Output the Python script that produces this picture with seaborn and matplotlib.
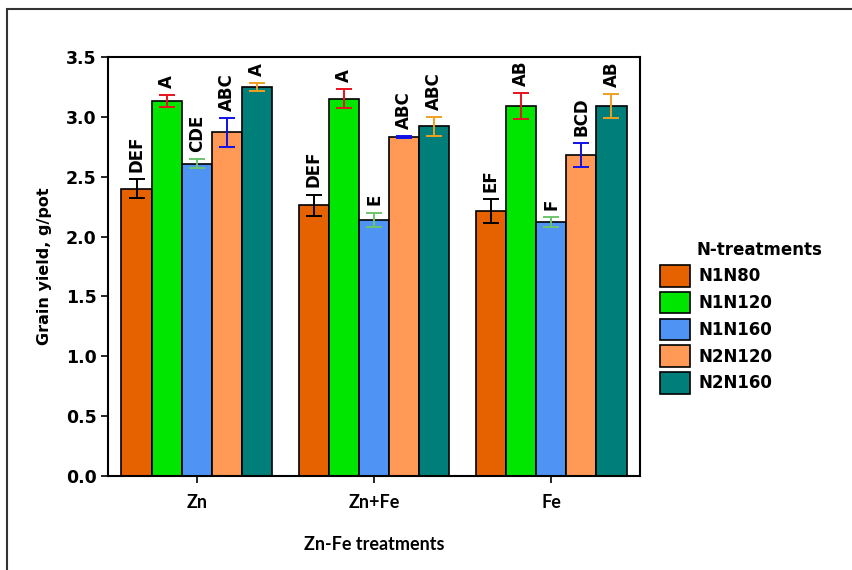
import matplotlib
matplotlib.use("Agg")
import matplotlib.pyplot as plt
from matplotlib.patches import Rectangle
import pandas as pd
import numpy as np
import seaborn as sns

# values
zn_fe = ["Zn", "Zn+Fe", "Fe"]
n_treat = ["N1N80", "N1N120", "N1N160", "N2N120", "N2N160"]
yield_means = {
    "N1N80":  [2.40, 2.26, 2.21],
    "N1N120": [3.13, 3.15, 3.09],
    "N1N160": [2.61, 2.14, 2.12],
    "N2N120": [2.87, 2.83, 2.68],
    "N2N160": [3.25, 2.92, 3.09],
}
yield_err = {
    "N1N80":  [0.08, 0.09, 0.10],
    "N1N120": [0.05, 0.08, 0.11],
    "N1N160": [0.04, 0.06, 0.04],
    "N2N120": [0.12, 0.01, 0.10],
    "N2N160": [0.03, 0.08, 0.10],
}
letters = {
    "N1N80":  ["DEF", "DEF", "EF"],
    "N1N120": ["A", "A", "AB"],
    "N1N160": ["CDE", "E", "F"],
    "N2N120": ["ABC", "ABC", "BCD"],
    "N2N160": ["A", "ABC", "AB"],
}

bar_colors = ["#E66100", "#00E600", "#4F94F5", "#FF9955", "#007F7A"]
err_colors = ["black", "#E8121E", "#6CC46C", "#1010E8", "#F0A020"]

rows = []
for n in n_treat:
    for i, t in enumerate(zn_fe):
        rows.append({"treat": t, "N": n, "y": yield_means[n][i],
                     "err": yield_err[n][i], "lab": letters[n][i]})
df = pd.DataFrame(rows)

sns.set_style("ticks")
plt.rcParams["font.family"] = ["DejaVu Sans"]
plt.rcParams.update({"text.color": "black", "axes.labelcolor": "black",
                     "xtick.color": "black", "ytick.color": "black"})

fig = plt.figure(figsize=(8.52, 5.70), dpi=100)
ax = fig.add_axes([0.127, 0.165, 0.624, 0.735])

sns.barplot(data=df, x="treat", y="y", hue="N", order=zn_fe, hue_order=n_treat,
            palette=bar_colors, errorbar=None, width=0.85, saturation=1,
            edgecolor="black", linewidth=1.2, ax=ax)

for k, (n, cont) in enumerate(zip(n_treat, ax.containers)):
    sub = df[df["N"] == n].set_index("treat").loc[zn_fe]
    xs = [p.get_x() + p.get_width() / 2 for p in cont.patches]
    ax.errorbar(xs, sub["y"], yerr=sub["err"], fmt="none", ecolor=err_colors[k],
                elinewidth=1.4, capsize=6, capthick=1.4, zorder=5)
    for x, y, e, lab in zip(xs, sub["y"], sub["err"], sub["lab"]):
        ax.text(x, y + e + 0.06, lab, rotation=90, ha="center", va="bottom",
                fontsize=12, fontweight="bold")

ax.set_ylim(0, 3.5)
ax.set_xlim(-0.5, 2.5)
ax.set_yticks(np.arange(0, 3.51, 0.5))
ax.set_yticklabels([f"{v:.1f}" for v in np.arange(0, 3.51, 0.5)],
                   fontsize=12.5, fontweight="bold")
ax.set_xticks(range(3))
ax.set_xticklabels(zn_fe, fontsize=13, family="Lato", fontweight="bold")
ax.tick_params(axis="both", direction="out", length=5, width=1.2, color="black")
ax.tick_params(axis="x", pad=8)
for s in ax.spines.values():
    s.set_visible(True)
    s.set_color("black")
    s.set_linewidth(1.5)

ax.set_ylabel("Grain yield, g/pot", fontsize=11.5, fontweight="bold", labelpad=10)
ax.set_xlabel("Zn-Fe treatments", fontsize=13, family="Lato",
              fontweight="bold", labelpad=18)

leg = ax.legend(loc="center left", bbox_to_anchor=(1.01, 0.35),
                frameon=False, fontsize=12,
                handlelength=1.8, handleheight=1.6, labelspacing=0.32,
                handletextpad=0.5)
for t in leg.get_texts():
    t.set_fontweight("bold")
fig.text(0.818, 0.561, "N-treatments", fontsize=12, fontweight="bold",
         ha="left", va="center")

# outer frame of the original image
fig.patches.append(Rectangle((0.008, -0.1), 1.2, 1.085, transform=fig.transFigure,
                             fill=False, edgecolor="#333333", linewidth=1.5))

fig.savefig("out.png", dpi=100)
